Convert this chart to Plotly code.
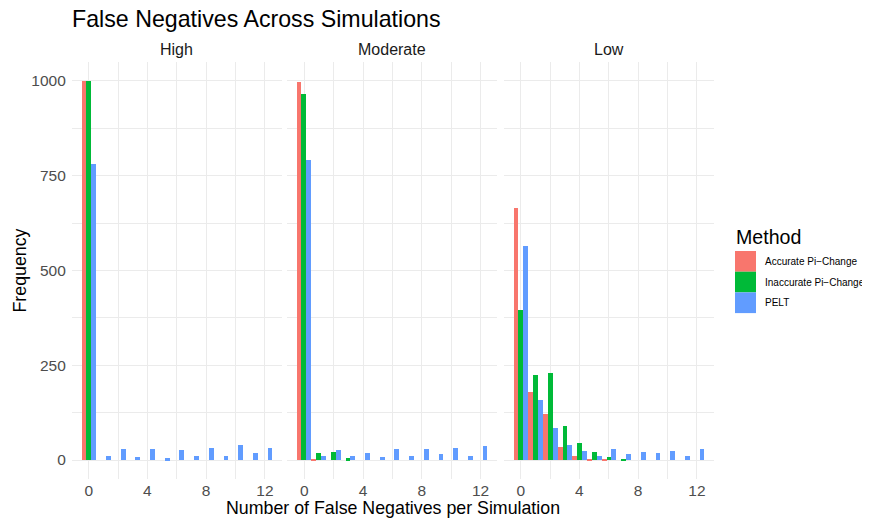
import plotly.graph_objects as go

# ---- data ----
counts = list(range(13))
methods = ["Accurate Pi\u2212Change", "Inaccurate Pi\u2212Change", "PELT"]
colors = ["#F8766D", "#00BA38", "#619CFF"]
panels = ["High", "Moderate", "Low"]

acc_high = [1000, 0, 0, 0, 0, 0, 0, 0, 0, 0, 0, 0, 0]
inacc_high = [1000, 0, 0, 0, 0, 0, 0, 0, 0, 0, 0, 0, 0]
pelt_high = [780, 10, 29, 8, 28, 5, 26, 10, 33, 10, 40, 18, 31]

acc_mod = [997, 4, 0, 0, 0, 0, 0, 0, 0, 0, 0, 0, 0]
inacc_mod = [966, 18, 20, 5, 0, 0, 0, 0, 0, 0, 0, 0, 0]
pelt_mod = [792, 12, 26, 11, 19, 7, 29, 11, 28, 17, 33, 11, 38]

acc_low = [665, 180, 121, 34, 11, 3, 1, 0, 0, 0, 0, 0, 0]
inacc_low = [397, 225, 230, 91, 44, 20, 8, 2, 0, 0, 0, 0, 0]
pelt_low = [565, 158, 84, 40, 24, 11, 29, 16, 20, 18, 24, 11, 30]

panel_data = [
    [acc_high, inacc_high, pelt_high],
    [acc_mod, inacc_mod, pelt_mod],
    [acc_low, inacc_low, pelt_low],
]

# page body has an 8px margin; the figure is sized/positioned to compensate
OFF = 8
W, H = 870 - OFF, 523 - OFF
FONT = "Liberation Sans, Arial, Helvetica, sans-serif"


def px(x):
    return (x - OFF) / W


def py(y):
    return 1 - (y - OFF) / H


panel_px = [(71.8, 281.8), (287.4, 497.4), (503.8, 713.8)]
y_top, y_bot = 62, 479

fig = go.Figure()
for i, (name, series) in enumerate(zip(panels, panel_data)):
    ax = "" if i == 0 else str(i + 1)
    for m, vals, c in zip(methods, series, colors):
        fig.add_trace(go.Bar(
            x=counts, y=vals, name=m, marker=dict(color=c, line=dict(width=0)),
            xaxis="x" + ax, yaxis="y" + ax, offsetgroup=m, showlegend=False,
        ))

grid = "#ebebeb"
layout = dict(
    width=W, height=H, margin=dict(l=0, r=0, t=0, b=0),
    paper_bgcolor="white", plot_bgcolor="white",
    barmode="group", bargap=0, bargroupgap=0,
    font=dict(family=FONT),
    showlegend=False,
)
for i in range(3):
    ax = "" if i == 0 else str(i + 1)
    x0, x1 = panel_px[i]
    layout["xaxis" + ax] = dict(
        domain=[px(x0), px(x1)], range=[-1.15, 13.15],
        tick0=0, dtick=4, ticks="", showline=False, zeroline=False,
        showgrid=True, gridcolor=grid, gridwidth=1.2,
        minor=dict(tick0=0, dtick=2, showgrid=True, gridcolor=grid, gridwidth=0.6),
        tickfont=dict(size=15.5, color="#4d4d4d", family=FONT),
        anchor="y" + ax,
    )
    layout["yaxis" + ax] = dict(
        domain=[py(y_bot), py(y_top)], range=[-50, 1050],
        tick0=0, dtick=250, ticks="", showline=False, zeroline=False,
        showgrid=True, gridcolor=grid, gridwidth=1.2,
        minor=dict(tick0=0, dtick=125, showgrid=True, gridcolor=grid, gridwidth=0.6),
        tickfont=dict(size=15.5, color="#4d4d4d", family=FONT),
        showticklabels=(i == 0), ticklabelstandoff=5,
        anchor="x" + ax,
    )
    if i > 0:
        layout["yaxis" + ax]["matches"] = "y"

annotations = []
shapes = []
# title
annotations.append(dict(text="False Negatives Across Simulations", x=px(70.5), y=py(18.5),
                        xref="paper", yref="paper", xanchor="left", yanchor="middle",
                        showarrow=False, borderpad=0,
                        font=dict(size=23.2, color="black", family=FONT)))
# strip labels
for i, name in enumerate(panels):
    x0, x1 = panel_px[i]
    annotations.append(dict(text=name, x=px((x0 + x1) / 2), y=py(49), xref="paper", yref="paper",
                            xanchor="center", yanchor="middle", showarrow=False,
                            font=dict(size=16, color="#1a1a1a", family=FONT)))
# axis titles
annotations.append(dict(text="Number of False Negatives per Simulation", x=px(393), y=py(508),
                        xref="paper", yref="paper", xanchor="center", yanchor="middle",
                        showarrow=False, font=dict(size=17.8, color="black", family=FONT)))
annotations.append(dict(text="Frequency", x=px(19), y=py(270.5), xref="paper", yref="paper",
                        xanchor="center", yanchor="middle", textangle=-90, showarrow=False,
                        font=dict(size=17.8, color="black", family=FONT)))
# legend
annotations.append(dict(text="Method", x=px(734), y=py(236.5), xref="paper", yref="paper",
                        xanchor="left", yanchor="middle", showarrow=False,
                        font=dict(size=19.6, color="black", family=FONT)))
for k, (m, c) in enumerate(zip(methods, colors)):
    top = 251 + k * 20.7
    shapes.append(dict(type="rect", xref="paper", yref="paper",
                       x0=px(735), x1=px(756), y0=py(top + 20.7), y1=py(top),
                       fillcolor=c, line=dict(width=0)))
    annotations.append(dict(text=m, x=px(762.5), y=py(top + 10.35), xref="paper", yref="paper",
                            xanchor="left", yanchor="middle", showarrow=False,
                            font=dict(size=10, color="black", family=FONT)))

layout["annotations"] = annotations
layout["shapes"] = shapes
fig.update_layout(**layout)

fig.write_html("out.html")
